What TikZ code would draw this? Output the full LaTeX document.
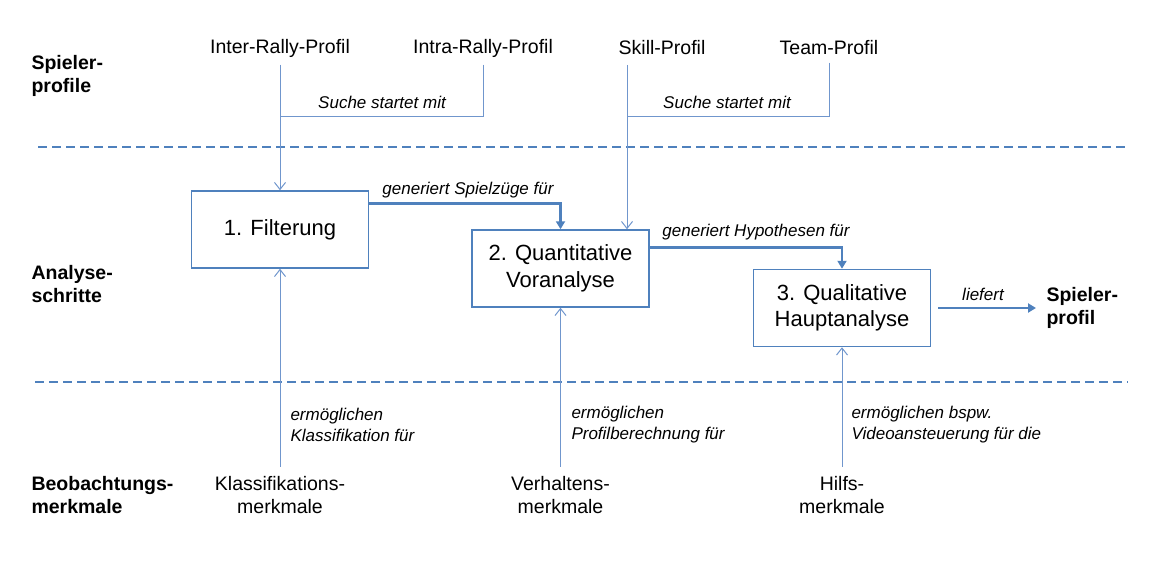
\documentclass[tikz,border=0pt]{standalone}
\usepackage{fontspec}
\setmainfont{Liberation Sans}
\usetikzlibrary{arrows.meta,positioning}
\definecolor{lineblue}{RGB}{79,129,189}
\definecolor{linkblue}{RGB}{112,150,205}

\begin{document}
\begin{tikzpicture}[x = 1pt, y = -1pt,
  txt/.style = {font=\fontsize{19.5}{23}\selectfont, align=center},
  head/.style = {font=\fontsize{19.5}{23}\selectfont\bfseries, align=left, anchor=west},
  lbl/.style = {font=\fontsize{17}{21}\selectfont\itshape, align=left},
  stepbox/.style = {draw=lineblue, line width=1.5pt, minimum width=177pt, minimum height=77pt, align=center, font=\fontsize{22}{26.5}\selectfont},
  link/.style = {draw=linkblue, line width=1pt},
  linkarrow/.style = {link, -{Straight Barb[length=7pt,width=11pt]}},
  flow/.style = {draw=lineblue, line width=2.6pt, -{Triangle[length=8pt,width=9pt]}},
  sep/.style = {draw=lineblue, line width=1.2pt, dash pattern=on 9pt off 5pt}]
\useasboundingbox (0,0) rectangle (1174,572);

% row labels
\node[head] (rowprof) at (28,76) {Spieler-\\profile};
\node[head] (rowsteps) at (28,284) {Analyse-\\schritte};
\node[head] (rowobs) at (28,495) {Beobachtungs-\\merkmale};

% separators
\draw[sep] (38,147) -- (1128,147);
\draw[sep] (35,382) -- (1128,382);

% profiles
\node[txt] (inter) at (280,48) {Inter-Rally-Profil};
\node[txt] (intra) at (483,48) {Intra-Rally-Profil};
\node[txt] (skill) at (662,48) {Skill-Profil};
\node[txt] (team) at (829,48) {Team-Profil};
\coordinate (skilltop) at (627,65);
\coordinate (join1) at (280,117);
\coordinate (join2) at (627,117);

% analysis steps
\node[stepbox] (filter) at (280,229.5) {1. Filterung};
\node[stepbox] (quant) at (560.5,268.5) {2. Quantitative\\Voranalyse};
\node[stepbox] (qual) at (842,308) {3. Qualitative\\Hauptanalyse};
\node[head] (result) at (1043,308) {Spieler-\\profil};

% features
\node[txt] (klass) at (280,495) {Klassifikations-\\merkmale};
\node[txt] (verh) at (560.5,495) {Verhaltens-\\merkmale};
\node[txt] (hilf) at (842,495) {Hilfs-\\merkmale};

% links
\draw[link] ([yshift=-4pt]intra.south) |- (join1);
\draw[linkarrow] ([yshift=-4pt]inter.south) -- (filter.north);
\draw[link] ([yshift=-4pt]team.south) |- (join2);
\draw[linkarrow] (skilltop) -- (skilltop |- quant.north);
\draw[linkarrow] ([yshift=6pt]klass.north) -- (filter.south);
\draw[linkarrow] ([yshift=6pt]verh.north) -- (quant.south);
\draw[linkarrow] ([yshift=6pt]hilf.north) -- (qual.south);

\draw[flow] ([yshift=-13pt]filter.north east) -| (quant.north);
\draw[flow] ([yshift=-18pt]quant.north east) -| (qual.north);
\draw[flow, shorten <=7pt, shorten >=7pt] (qual.east) -- (qual.east -| result.west);

% labels
\node[lbl] (lsearch1) at (382,102) {Suche startet mit};
\node[lbl] (lsearch2) at (727,102) {Suche startet mit};
\node[lbl] (lmoves) at (468,190) {generiert Spielzüge für};
\node[lbl] (lhyp) at (756,232) {generiert Hypothesen für};
\node[lbl] (lgive) at (983,294) {liefert};
\node[lbl, anchor=west] (lklass) at (287,425) {ermöglichen\\Klassifikation für};
\node[lbl, anchor=west] (lverh) at (568,425) {ermöglichen\\Profilberechnung für};
\node[lbl, anchor=west] (lhilf) at (848,425) {ermöglichen bspw.\\Videoansteuerung für die};
\end{tikzpicture}
\end{document}
